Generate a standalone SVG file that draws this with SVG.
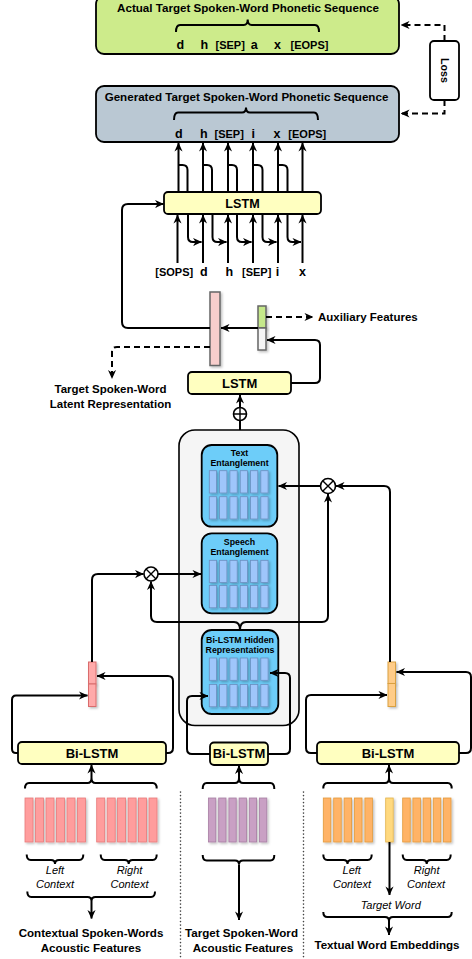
<svg xmlns="http://www.w3.org/2000/svg" xmlns:xlink="http://www.w3.org/1999/xlink" width="472" height="959" viewBox="0 0 472 959">
<style>
text{font-family:"Liberation Sans",Arial,sans-serif;fill:#000}
.b{font-weight:bold}
.t{font-size:11.6px;font-weight:bold;text-anchor:middle}
.s{font-size:11px;font-weight:bold;text-anchor:middle}
.l{font-size:12.5px}
.it{font-size:11px;font-style:italic;text-anchor:middle}
.ent{font-size:8.8px;font-weight:bold;text-anchor:middle}
.bl{font-size:13px;font-weight:bold;text-anchor:middle}
.yb{fill:#ffffc0;stroke:#000;stroke-width:1.8}
.blue{fill:#6dcdf9;stroke:#000;stroke-width:1.8}
.cell{fill:#9fc6fb;stroke:#6c8ebf;stroke-width:0.8}
.pk{fill:#ff9d9d;stroke:#e87a7a;stroke-width:0.8}
.pu{fill:#c9a0c4;stroke:#a77ea3;stroke-width:0.8}
.or{fill:#ffb366;stroke:#e39a3a;stroke-width:0.8}
.tg{fill:#ffd97f;stroke:#e3b24a;stroke-width:0.8}
.c{fill:none;stroke:#000;stroke-width:2}
.ca{fill:none;stroke:#000;stroke-width:2;marker-end:url(#ah)}
.d{fill:none;stroke:#000;stroke-width:2;stroke-dasharray:6 4;marker-end:url(#ah)}
.br{fill:none;stroke:#000;stroke-width:2}
.dot{fill:none;stroke:#444;stroke-width:1.6;stroke-dasharray:0.1 3.4;stroke-linecap:round}
</style>
<defs>
<marker id="ah" viewBox="0 0 10 10" refX="9.5" refY="5" markerWidth="9" markerHeight="9" markerUnits="userSpaceOnUse" orient="auto">
<path d="M0,0.5 L10,5 L0,9.5 L3,5 z" fill="#000"/>
</marker>
<filter id="sh" x="-50%" y="-20%" width="200%" height="140%">
<feDropShadow dx="1.5" dy="1.5" stdDeviation="0.8" flood-color="#000" flood-opacity="0.25"/>
</filter>
<rect id="cl" width="7.3" height="22.3" class="cell"/>
<rect id="pkb" width="8" height="44" class="pk"/>
<rect id="pub" width="7.3" height="44" class="pu"/>
<rect id="orb" width="7.5" height="44" class="or"/>
</defs>

<!-- Actual target box -->
<g id="actual">
<rect x="96" y="-4" width="303" height="58" rx="8" fill="#cdeb8b" stroke="#000" stroke-width="1.8"/>
<text class="t" x="248" y="11.5">Actual Target Spoken-Word Phonetic Sequence</text>
<path class="br" d="M176,32 Q176,25 180,25 H243.7 Q247.7,25 247.7,19.5 Q247.7,25 251.7,25 H315 Q319,25 319,32"/>
<g class="s">
<text class="l" x="180.3" y="49.3">d</text><text class="l" x="204.2" y="49.3">h</text><text x="230.2" y="49.3">[SEP]</text><text class="l" x="254.2" y="49.3">a</text><text class="l" x="277.5" y="49.3">x</text><text x="309.5" y="49.3">[EOPS]</text>
</g>
</g>

<!-- Loss -->
<g id="loss">
<rect x="430" y="41" width="29" height="59" rx="4" fill="#fff" stroke="#000" stroke-width="1.8"/>
<text class="b" font-size="10.7" text-anchor="middle" transform="translate(444.5,70.5) rotate(90)" dy="0.36em">Loss</text>
</g>

<!-- Generated target box -->
<g id="generated">
<rect x="96" y="86" width="303" height="56" rx="8" fill="#bac8d3" stroke="#000" stroke-width="1.8"/>
<text class="t" x="246.5" y="100.5">Generated Target Spoken-Word Phonetic Sequence</text>
<path class="br" d="M174,120 Q174,112.5 178,112.5 H242 Q246,112.5 246,107.5 Q246,112.5 250,112.5 H314 Q318,112.5 318,120"/>
<g class="s">
<text class="l" x="178.8" y="137.5">d</text><text class="l" x="203.8" y="137.5">h</text><text x="229.2" y="137.5">[SEP]</text><text class="l" x="253.3" y="137.5">i</text><text class="l" x="277" y="137.5">x</text><text x="307.3" y="137.5">[EOPS]</text>
</g>
</g>

<!-- Decoder LSTM -->
<g id="lstm-dec">
<rect class="yb" x="164" y="192" width="157" height="22" rx="4"/>
<text class="b" font-size="12.6" text-anchor="middle" x="242.5" y="207.5">LSTM</text>
</g>

<!-- decoder inputs -->
<g id="dec-inputs" class="s">
<text x="174.2" y="275.5">[SOPS]</text><text class="l" x="203.7" y="275.5">d</text><text class="l" x="229.2" y="275.5">h</text><text x="256.7" y="275.5">[SEP]</text><text class="l" x="277.5" y="275.5">i</text><text class="l" x="302.5" y="275.5">x</text>
</g>

<!-- latent vector -->
<g id="latent-bar">
<rect x="210" y="292" width="10" height="73.5" fill="#f8cecc" stroke="#666" stroke-width="1.5" filter="url(#sh)"/>
</g>
<g id="aux-bar">
<rect x="258" y="306" width="8" height="22" fill="#c5e88a" stroke="#666" stroke-width="1.5" filter="url(#sh)"/>
<rect x="258" y="328" width="8" height="22" fill="#f5f5f5" stroke="#666" stroke-width="1.5" filter="url(#sh)"/>
</g>
<g id="aux-label"><text class="b" font-size="11.5" x="318" y="320.5">Auxiliary Features</text></g>
<g id="latent-label">
<text class="b" font-size="11.5" text-anchor="middle" x="110.5" y="393">Target Spoken-Word</text>
<text class="b" font-size="11.5" text-anchor="middle" x="110.5" y="407.5">Latent Representation</text>
</g>

<!-- Encoder LSTM -->
<g id="lstm-enc">
<rect class="yb" x="188" y="372" width="103" height="22" rx="4"/>
<text class="bl" x="239.7" y="387.8">LSTM</text>
</g>

<!-- Plus -->
<g id="plus">
<circle cx="240" cy="414" r="6.5" fill="#fff" stroke="#000" stroke-width="1.6"/>
<path d="M233.5,414 H246.5 M240,407.5 V420.5" stroke="#000" stroke-width="1.4"/>
</g>

<!-- Container -->
<g id="container">
<rect x="179" y="430" width="120" height="295.5" rx="16" fill="#f5f5f5" stroke="#000" stroke-width="1.6"/>
</g>

<g id="text-ent">
<rect class="blue" x="201.7" y="445" width="75.6" height="81.7" rx="10"/>
<text class="ent" x="239.5" y="455.5">Text</text>
<text class="ent" x="239.5" y="465.5">Entanglement</text>
<g filter="url(#sh)">
<use href="#cl" x="209.3" y="470.7"/><use href="#cl" x="219.6" y="470.7"/><use href="#cl" x="229.9" y="470.7"/><use href="#cl" x="240.2" y="470.7"/><use href="#cl" x="250.5" y="470.7"/><use href="#cl" x="260.8" y="470.7"/>
<use href="#cl" x="209.3" y="496.7"/><use href="#cl" x="219.6" y="496.7"/><use href="#cl" x="229.9" y="496.7"/><use href="#cl" x="240.2" y="496.7"/><use href="#cl" x="250.5" y="496.7"/><use href="#cl" x="260.8" y="496.7"/>
</g>
</g>

<g id="speech-ent">
<rect class="blue" x="201.7" y="533.3" width="75.6" height="80" rx="10"/>
<text class="ent" x="239.5" y="545">Speech</text>
<text class="ent" x="239.5" y="555">Entanglement</text>
<g filter="url(#sh)">
<use href="#cl" x="209.3" y="560.3"/><use href="#cl" x="219.6" y="560.3"/><use href="#cl" x="229.9" y="560.3"/><use href="#cl" x="240.2" y="560.3"/><use href="#cl" x="250.5" y="560.3"/><use href="#cl" x="260.8" y="560.3"/>
<use href="#cl" x="209.3" y="585.5"/><use href="#cl" x="219.6" y="585.5"/><use href="#cl" x="229.9" y="585.5"/><use href="#cl" x="240.2" y="585.5"/><use href="#cl" x="250.5" y="585.5"/><use href="#cl" x="260.8" y="585.5"/>
</g>
</g>

<g id="hidden-rep">
<rect class="blue" x="201.7" y="630" width="76.6" height="84" rx="10"/>
<text class="ent" x="240" y="643">Bi-LSTM Hidden</text>
<text class="ent" x="240" y="653">Representations</text>
<g filter="url(#sh)">
<use href="#cl" x="209.3" y="658"/><use href="#cl" x="219.6" y="658"/><use href="#cl" x="229.9" y="658"/><use href="#cl" x="240.2" y="658"/><use href="#cl" x="250.5" y="658"/><use href="#cl" x="260.8" y="658"/>
<use href="#cl" x="209.3" y="684.5"/><use href="#cl" x="219.6" y="684.5"/><use href="#cl" x="229.9" y="684.5"/><use href="#cl" x="240.2" y="684.5"/><use href="#cl" x="250.5" y="684.5"/><use href="#cl" x="260.8" y="684.5"/>
</g>
</g>

<!-- multiply nodes -->
<g id="mul-left">
<circle cx="151" cy="574" r="7" fill="#fff" stroke="#000" stroke-width="1.6"/>
<path d="M146,569 L156,579 M156,569 L146,579" stroke="#000" stroke-width="1.4"/>
</g>
<g id="mul-right">
<circle cx="328" cy="486" r="7.5" fill="#fff" stroke="#000" stroke-width="1.6"/>
<path d="M322.7,480.7 L333.3,491.3 M333.3,480.7 L322.7,491.3" stroke="#000" stroke-width="1.4"/>
</g>

<!-- small concat bars -->
<g id="ctx-speech-bar">
<rect x="88.5" y="662" width="7.5" height="22" fill="#ffaaaa" stroke="#d96c6c" stroke-width="1" filter="url(#sh)"/>
<rect x="88.5" y="684" width="7.5" height="22.5" fill="#ffaaaa" stroke="#d96c6c" stroke-width="1" filter="url(#sh)"/>
</g>
<g id="ctx-text-bar">
<rect x="388" y="662" width="7.5" height="21.5" fill="#ffcc88" stroke="#d9a040" stroke-width="1" filter="url(#sh)"/>
<rect x="388" y="683.5" width="7.5" height="23" fill="#ffcc88" stroke="#d9a040" stroke-width="1" filter="url(#sh)"/>
</g>

<!-- Bi-LSTMs -->
<g id="bilstm-left">
<rect class="yb" x="18" y="742" width="148" height="22" rx="4"/>
<text class="bl" x="92" y="757.5">Bi-LSTM</text>
</g>
<g id="bilstm-mid">
<rect class="yb" x="210" y="742.5" width="58" height="22.5" rx="4"/>
<text class="bl" x="239" y="758">Bi-LSTM</text>
</g>
<g id="bilstm-right">
<rect class="yb" x="317" y="742" width="142" height="22" rx="4"/>
<text class="bl" x="388" y="757.5">Bi-LSTM</text>
</g>

<!-- features -->
<g id="feat-left">
<g filter="url(#sh)">
<use href="#pkb" x="25" y="798"/><use href="#pkb" x="35.5" y="798"/><use href="#pkb" x="46" y="798"/><use href="#pkb" x="56.5" y="798"/><use href="#pkb" x="67" y="798"/><use href="#pkb" x="77.5" y="798"/>
<use href="#pkb" x="96.7" y="798"/><use href="#pkb" x="107.2" y="798"/><use href="#pkb" x="117.6" y="798"/><use href="#pkb" x="128.1" y="798"/><use href="#pkb" x="138.5" y="798"/><use href="#pkb" x="149" y="798"/>
</g>
<path class="br" d="M25,788.5 Q25,783 29,783 H87.5 Q91.5,783 91.5,778 Q91.5,783 95.5,783 H152.7 Q156.7,783 156.7,788.5"/>
<path class="br" d="M26.7,854.5 Q26.7,860 30.7,860 H51 Q55,860 55,864 Q55,860 59,860 H79.3 Q83.3,860 83.3,854.5"/>
<path class="br" d="M100.7,854.5 Q100.7,860 104.7,860 H124.7 Q128.7,860 128.7,864 Q128.7,860 132.7,860 H152.7 Q156.7,860 156.7,854.5"/>
<path class="br" d="M27.3,891.5 Q27.3,897 31.3,897 H87.5 Q91.5,897 91.5,901 Q91.5,897 95.5,897 H151 Q155,897 155,891.5"/>
<text class="it" x="55" y="873.5">Left</text>
<text class="it" x="55" y="887.5">Context</text>
<text class="it" x="129.5" y="873.5">Right</text>
<text class="it" x="129.5" y="887.5">Context</text>
<text class="t" x="91" y="937">Contextual Spoken-Words</text>
<text class="t" x="91" y="951.5">Acoustic Features</text>
</g>

<g id="feat-mid">
<g filter="url(#sh)">
<use href="#pub" x="208.5" y="798"/><use href="#pub" x="218.7" y="798"/><use href="#pub" x="228.9" y="798"/><use href="#pub" x="239.1" y="798"/><use href="#pub" x="249.3" y="798"/><use href="#pub" x="259.5" y="798"/>
</g>
<path class="br" d="M202.7,789 Q202.7,783 206.7,783 H235 Q239,783 239,778 Q239,783 243,783 H270.3 Q274.3,783 274.3,789"/>
<path class="br" d="M202.7,855 Q202.7,860.5 206.7,860.5 H235 Q239,860.5 239,864.5 Q239,860.5 243,860.5 H270.3 Q274.3,860.5 274.3,855"/>
<text class="t" x="241.5" y="937">Target Spoken-Word</text>
<text class="t" x="243" y="951.5">Acoustic Features</text>
</g>

<g id="feat-right">
<g filter="url(#sh)">
<use href="#orb" x="323.3" y="798"/><use href="#orb" x="333.7" y="798"/><use href="#orb" x="344.1" y="798"/><use href="#orb" x="354.5" y="798"/><use href="#orb" x="364.9" y="798"/>
<rect x="385.7" y="798" width="7.5" height="44" class="tg"/>
<use href="#orb" x="402.7" y="798"/><use href="#orb" x="412.9" y="798"/><use href="#orb" x="423.1" y="798"/><use href="#orb" x="433.3" y="798"/><use href="#orb" x="443.5" y="798"/>
</g>
<path class="br" d="M323.3,788.5 Q323.3,783 327.3,783 H385 Q389,783 389,778 Q389,783 393,783 H447.7 Q451.7,783 451.7,788.5"/>
<path class="br" d="M323.3,854.5 Q323.3,860 327.3,860 H343.5 Q347.5,860 347.5,864 Q347.5,860 351.5,860 H367.7 Q371.7,860 371.7,854.5"/>
<path class="br" d="M402.7,854.5 Q402.7,860 406.7,860 H422.7 Q426.7,860 426.7,864 Q426.7,860 430.7,860 H446.7 Q450.7,860 450.7,854.5"/>
<path class="br" d="M323.3,912 Q323.3,917 327.3,917 H385 Q389,917 389,921 Q389,917 393,917 H447.7 Q451.7,917 451.7,912"/>
<text class="it" x="351.7" y="873.5">Left</text>
<text class="it" x="352" y="887.5">Context</text>
<text class="it" x="426.7" y="873.5">Right</text>
<text class="it" x="426" y="887.5">Context</text>
<text class="it" font-size="11.3" x="390.7" y="908.5">Target Word</text>
<text class="t" x="387" y="948.5">Textual Word Embeddings</text>
</g>

<g id="separators">
<path class="dot" d="M180.5,792 V959"/>
<path class="dot" d="M303.5,792 V959"/>
</g>

<!-- connectors -->
<g id="connectors">
<path class="d" d="M444.5,41 V25 H401"/>
<path class="d" d="M444.5,100 V113.5 H401"/>
<path class="ca" d="M178.5,192 V143"/>
<path class="ca" d="M203,192 V143"/>
<path class="ca" d="M228,192 V143"/>
<path class="ca" d="M253,192 V143"/>
<path class="ca" d="M278,192 V143"/>
<path class="ca" d="M302.5,192 V143"/>
<path class="c" d="M187.5,192 V170 Q187.5,165 182.5,165 H178.5"/>
<path class="c" d="M212,192 V170 Q212,165 207,165 H203"/>
<path class="c" d="M237,192 V170 Q237,165 232,165 H228"/>
<path class="c" d="M262.5,192 V170 Q262.5,165 257.5,165 H253"/>
<path class="c" d="M287.5,192 V170 Q287.5,165 282.5,165 H278"/>
<path class="ca" d="M177.5,263 V215"/>
<path class="ca" d="M203,263 V215"/>
<path class="ca" d="M228,263 V215"/>
<path class="ca" d="M253,263 V215"/>
<path class="ca" d="M278,263 V215"/>
<path class="ca" d="M302.5,263 V215"/>
<path class="ca" d="M188,214 V237 Q188,242 193,242 H201.5"/>
<path class="ca" d="M212.5,214 V237 Q212.5,242 217.5,242 H226.5"/>
<path class="ca" d="M237,214 V237 Q237,242 242,242 H251.5"/>
<path class="ca" d="M262.5,214 V237 Q262.5,242 267.5,242 H276.5"/>
<path class="ca" d="M287.5,214 V237 Q287.5,242 292.5,242 H301"/>
<path class="ca" d="M210,328 H128 Q122,328 122,322 V210 Q122,204 128,204 H163.5"/>
<path class="ca" d="M258,328 H221"/>
<path class="d" d="M266,317 H313"/>
<path class="d" d="M210,347 H117 Q112,347 112,352 V378.5"/>
<path class="ca" d="M291,383 H315 Q320,383 320,378 V345 Q320,340 315,340 H267"/>
<path class="c" d="M240,430 V420.5"/>
<path class="ca" d="M240,407.5 V395"/>
<path class="ca" d="M240,630 Q240,622 234,622 H157 Q151,622 151,616 V581.5"/>
<path class="ca" d="M240,630 Q240,622 246,622 H322 Q328,622 328,616 V494"/>
<path class="ca" d="M158,574 H201"/>
<path class="ca" d="M320.5,486 H278.5"/>
<path class="ca" d="M92,662 V580 Q92,574 98,574 H143.5"/>
<path class="ca" d="M390,662 V492 Q390,486 384,486 H336"/>
<path class="ca" d="M18,753 H16 Q12,753 12,749 V700 Q12,695.5 16,695.5 H87.5"/>
<path class="ca" d="M166,753 H168 Q173,753 173,748 V681 Q173,676 168,676 H97"/>
<path class="ca" d="M210,754 H192 Q187,754 187,749 V701 Q187,696 192,696 H208"/>
<path class="ca" d="M268,754 H285 Q290,754 290,749 V678 Q290,673 285,673 H270"/>
<path class="ca" d="M317,753 H311 Q306,753 306,748 V700 Q306,695 311,695 H387"/>
<path class="ca" d="M459,753 H466 Q471,753 471,748 V677 Q471,672 466,672 H396.5"/>
<path class="ca" d="M91.5,778 V765"/>
<path class="ca" d="M239,778 V765.5"/>
<path class="ca" d="M389,778 V765"/>
<path class="ca" d="M91.5,901 V918.5"/>
<path class="ca" d="M239,864.5 V920"/>
<path class="ca" d="M389.5,842 V895"/>
<path class="ca" d="M389,921 V935"/>
</g>
</svg>
